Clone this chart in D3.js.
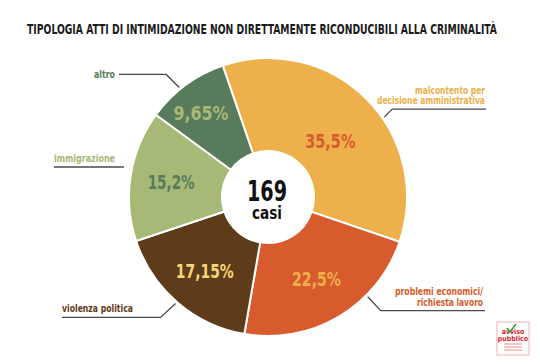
<!DOCTYPE html>
<html>
<head>
<meta charset="utf-8">
<script src="https://cdn.jsdelivr.net/npm/d3@7"></script>
<style>
  body { margin: 0; background: #fff; }
  svg text { font-family: "DejaVu Sans", sans-serif; font-stretch: condensed; font-weight: bold; }
</style>
</head>
<body>
<svg id="chart" width="540" height="364"></svg>
<script>
// data
const categories = ["malcontento per decisione amministrativa", "problemi economici/ richiesta lavoro",
  "violenza politica", "immigrazione", "altro"];
const shares = [35.5, 22.5, 17.15, 15.2, 9.65];
const shareLabels = ["35,5%", "22,5%", "17,15%", "15,2%", "9,65%"];
const labelLines = [["malcontento per", "decisione amministrativa"], ["problemi economici/", "richiesta lavoro"],
  ["violenza politica"], ["immigrazione"], ["altro"]];
const totalCases = 169;

const sliceColors = ["#EDB04B", "#D85B2E", "#5E3B19", "#A7B976", "#587B5B"];
const pctColors = ["#D85B2E", "#EDB04B", "#F6D67A", "#587B5B", "#A7B976"];

const svg = d3.select("#chart");
const cx = 268, cy = 197, rOuter = 139, rInner = 46;
const deg = Math.PI / 180;

// squeeze a text to a target width when the font runs wide
function fitWidth(sel, w) {
  const n = sel.node();
  if (n.getComputedTextLength() > w) sel.attr("textLength", w).attr("lengthAdjust", "spacingAndGlyphs");
}

// title
const title = svg.append("text")
  .attr("x", 262).attr("y", 34)
  .attr("text-anchor", "middle")
  .attr("font-size", 14)
  .attr("fill", "#1b1b1b")
  .text("TIPOLOGIA ATTI DI INTIMIDAZIONE NON DIRETTAMENTE RICONDUCIBILI ALLA CRIMINALITÀ");
fitWidth(title, 470);

const pie = d3.pie().sort(null).value(d => d)
  .startAngle(-19 * deg).endAngle(341 * deg);
const arcs = pie(shares);
const arc = d3.arc().innerRadius(rInner).outerRadius(rOuter);

const g = svg.append("g").attr("transform", `translate(${cx},${cy})`);

g.selectAll("path.slice").data(arcs).enter().append("path")
  .attr("class", "slice")
  .attr("d", arc)
  .attr("fill", (d, i) => sliceColors[i])
  .attr("stroke", "#fff")
  .attr("stroke-width", 2);

// percentage labels
const labelR = [84, 95, 97, 98, 108];
const labelShift = [3, 0, 0, 0, -2];
g.selectAll("text.pct").data(arcs).enter().append("text")
  .attr("class", "pct")
  .attr("x", (d, i) => labelR[i] * Math.sin((d.startAngle + d.endAngle) / 2 + labelShift[i] * deg))
  .attr("y", (d, i) => -labelR[i] * Math.cos((d.startAngle + d.endAngle) / 2 + labelShift[i] * deg))
  .attr("dy", "0.36em")
  .attr("text-anchor", "middle")
  .attr("font-size", 20)
  .attr("fill", (d, i) => pctColors[i])
  .text((d, i) => shareLabels[i])
  .each(function (d, i) { fitWidth(d3.select(this), [50, 49, 58, 47, 55][i]); });

// center
g.append("text").attr("x", -1).attr("y", 4).attr("text-anchor", "middle")
  .attr("font-size", 28).attr("fill", "#111").text(totalCases)
  .each(function () { fitWidth(d3.select(this), 40); });
g.append("text").attr("x", -1).attr("y", 22).attr("text-anchor", "middle")
  .attr("font-size", 18).attr("fill", "#111").text("casi")
  .each(function () { fitWidth(d3.select(this), 30); });

// callouts: angle on the rim, elbow offset, line end x, text anchor, text width
const callouts = [
  { a: 55.5, elbow: [8, -8], endX: 486, anchor: "end", tx: 485, w: [70, 108] },
  { a: 135, elbow: [13, 14], endX: 485, anchor: "end", tx: 483, w: [88, 66] },
  { a: 221, elbow: [-15, 14], endX: 62, anchor: "start", tx: 62, w: [71] },
  { a: 263.5, elbow: [-4, 0], endX: 54, anchor: "start", tx: 54, w: [61] },
  { a: 321, elbow: [-13, -13], endX: 119, anchor: "end", tx: 115, w: [21] }
];

callouts.forEach((c, i) => {
  const sx = cx + (rOuter + 2) * Math.sin(c.a * deg);
  const sy = cy - (rOuter + 2) * Math.cos(c.a * deg);
  const ex = sx + c.elbow[0], ey = sy + c.elbow[1];
  const pts = i === 3 ? [[ex, 167], [c.endX, 167]] : [[sx, sy], [ex, ey], [c.endX, ey]];
  svg.append("path")
    .attr("d", d3.line()(pts))
    .attr("fill", "none").attr("stroke", "#4a4a4a").attr("stroke-width", 1.3);
  const lineY = i === 3 ? 167 : ey;
  const lines = labelLines[i];
  lines.forEach((l, k) => {
    const y = i === 4 ? lineY + 4 : lineY - 5 - (lines.length - 1 - k) * 10.5;
    const t = svg.append("text")
      .attr("x", c.tx).attr("y", y)
      .attr("text-anchor", c.anchor)
      .attr("font-size", 11)
      .attr("fill", sliceColors[i])
      .text(l);
    fitWidth(t, c.w[k]);
  });
});

// logo
const logo = svg.append("g").attr("transform", "translate(497,322)");
logo.append("rect").attr("width", 32).attr("height", 33).attr("fill", "#fff")
  .attr("stroke", "#f2b3b3").attr("stroke-width", 1);
logo.append("text").attr("x", 16).attr("y", 12).attr("text-anchor", "middle")
  .attr("font-size", 7).attr("fill", "#d6262b").text("avviso");
logo.append("text").attr("x", 16).attr("y", 19).attr("text-anchor", "middle")
  .attr("font-size", 7).attr("fill", "#d6262b").text("pubblico");
logo.append("path").attr("d", "M10,6 L13,10 L19,2").attr("fill", "none")
  .attr("stroke", "#2f9a3a").attr("stroke-width", 1.5);
[22, 25, 28].forEach(y => logo.append("line").attr("x1", 7).attr("x2", 25)
  .attr("y1", y).attr("y2", y).attr("stroke", "#e88").attr("stroke-width", 1));
</script>
</body>
</html>
